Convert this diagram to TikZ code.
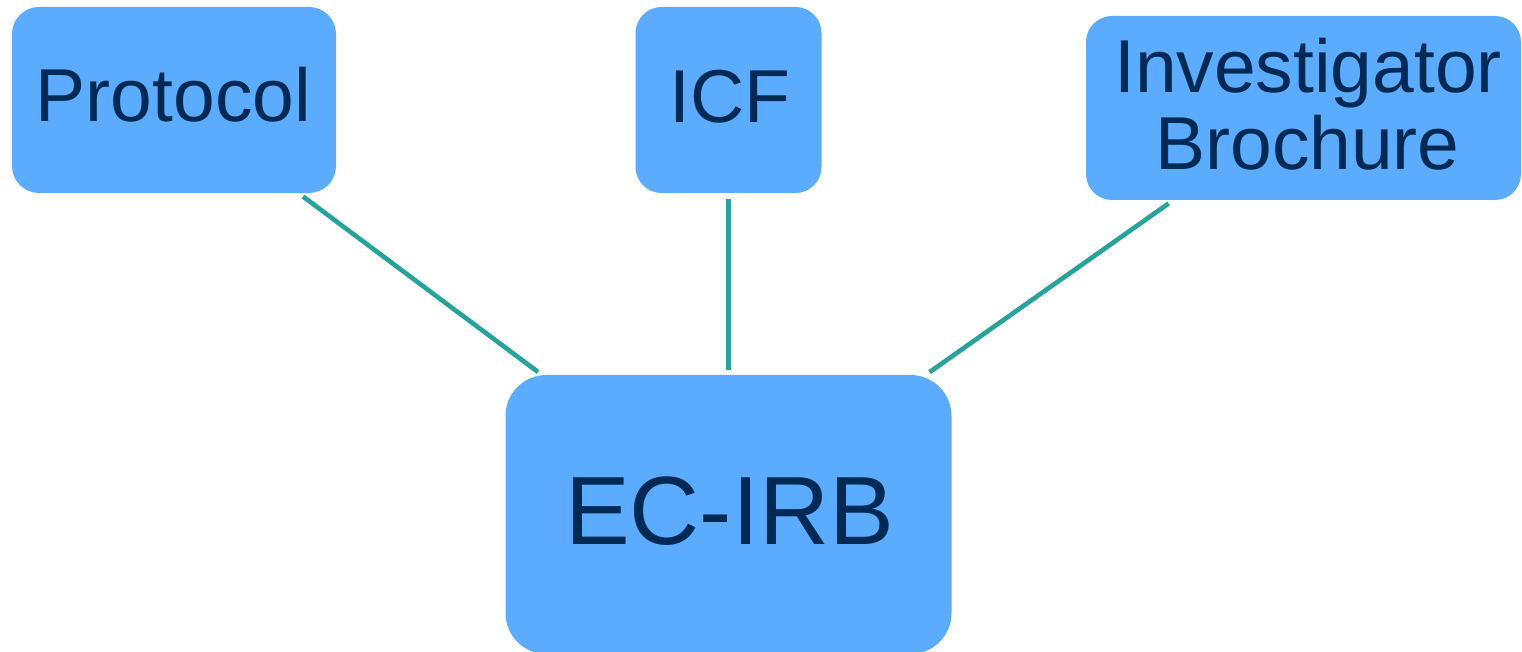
\documentclass[tikz,border=0pt]{standalone}
\usepackage{fontspec}
\setmainfont{Liberation Sans}
\definecolor{boxfill}{RGB}{91,171,255}
\definecolor{txt}{RGB}{0,41,84}
\definecolor{link}{RGB}{38,163,154}
\begin{document}
\begin{tikzpicture}[x=0.5pt,y=-0.5pt,
  box/.style={fill=boxfill, inner sep=0pt, outer sep=0pt},
  lbl/.style={text=txt, anchor=base, inner sep=0pt},
  small/.style={font=\fontsize{37.5}{38.5}\selectfont},
  big/.style={font=\fontsize{48.5}{50}\selectfont},
  conn/.style={draw=link, line width=2.3pt, shorten <=3pt, shorten >=2.5pt}]
\fill[white] (0,0) rectangle (1522,652);
\useasboundingbox (0,0) rectangle (1522,652);
% boxes
\node[box, minimum width=162pt, minimum height=93pt, rounded corners=13.5pt] (proto) at (174,100) {};
\node[box, minimum width=93pt, minimum height=93pt, rounded corners=13pt] (icf) at (728.5,100) {};
\node[box, minimum width=217.5pt, minimum height=92pt, rounded corners=13pt] (ib) at (1303.5,108) {};
\node[box, minimum width=223pt, minimum height=139.5pt, rounded corners=20.5pt] (ec) at (728.5,514.5) {};
% texts
\node[lbl, small] (protot) at (173.5,122) {Protocol};
\node[lbl, small] (icft) at (730,123) {ICF};
\node[lbl, small] (ibt1) at (1308,93) {Investigator};
\node[lbl, small] (ibt2) at (1307.5,170) {Brochure};
\node[lbl, big] (ect) at (729.5,545) {EC-IRB};
% connectors
\draw[conn] (proto) -- (ec);
\draw[conn] (icf) -- (ec);
\draw[conn] (ib) -- (ec);
\end{tikzpicture}
\end{document}
